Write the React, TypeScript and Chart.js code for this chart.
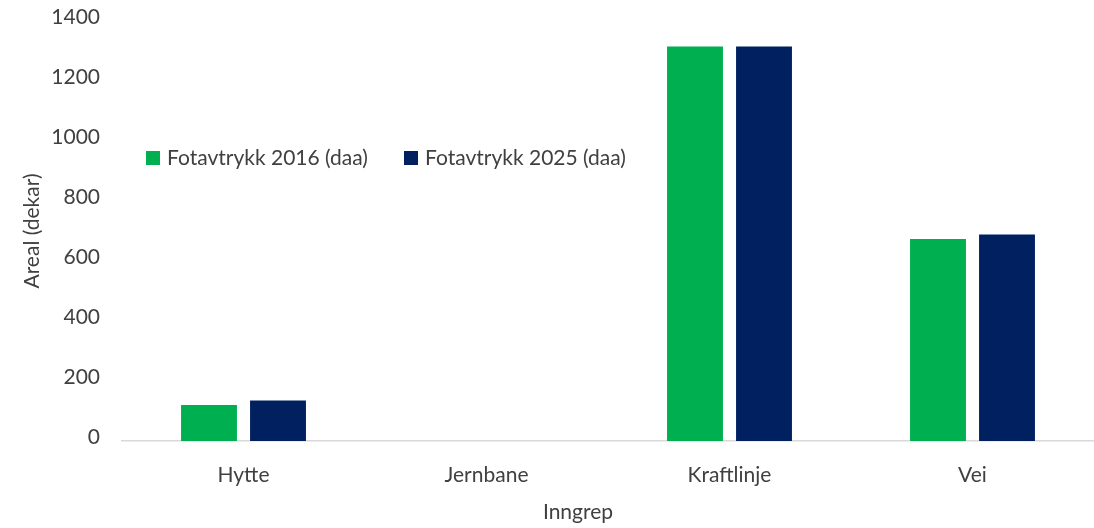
import React, { useEffect, useRef } from "react";
import { Chart, registerables } from "chart.js";

Chart.register(...registerables);

const categories = ["Hytte", "Jernbane", "Kraftlinje", "Vei"];
const series2016 = [120, 0, 1315, 673];
const series2025 = [135, 0, 1315, 688];
const seriesLabels = ["Fotavtrykk 2016 (daa)", "Fotavtrykk 2025 (daa)"];
const seriesColors = ["#00B050", "#002060"];
const yTitle = "Areal (dekar)";
const xTitle = "Inngrep";

const FONT = "Lato, 'Open Sans', sans-serif";
const TEXT = "#404040";

const overlayPlugin = {
  id: "overlay",
  afterDraw(chart: any) {
    const ctx = chart.ctx;
    const { left, top, bottom } = chart.chartArea;
    ctx.save();
    ctx.font = `21px ${FONT}`;
    ctx.fillStyle = TEXT;
    ctx.textBaseline = "middle";
    // legend
    const offsets = [24, 282];
    chart.data.datasets.forEach((ds: any, i: number) => {
      const x = left + offsets[i];
      const y = top + 137;
      ctx.fillStyle = ds.backgroundColor;
      ctx.fillRect(x, y - 7, 14, 14);
      ctx.fillStyle = TEXT;
      ctx.textAlign = "left";
      ctx.fillText(ds.label, x + 21, y);
    });
    // x title
    ctx.textAlign = "center";
    ctx.fillText(xTitle, 578, 512);
    // y title
    ctx.translate(32, (top + bottom) / 2);
    ctx.rotate(-Math.PI / 2);
    ctx.fillText(yTitle, 0, 0);
    ctx.restore();
  },
};

export default function App() {
  const ref = useRef<HTMLCanvasElement>(null);
  useEffect(() => {
    if (!ref.current) return;
    const chart = new Chart(ref.current, {
      type: "bar",
      data: {
        labels: categories,
        datasets: [
          { label: seriesLabels[0], data: series2016, backgroundColor: seriesColors[0] },
          { label: seriesLabels[1], data: series2025, backgroundColor: seriesColors[1] },
        ],
      },
      options: {
        animation: false,
        responsive: true,
        maintainAspectRatio: false,
        layout: { padding: { top: 21, left: 0, right: 0, bottom: 0 } },
        datasets: { bar: { categoryPercentage: 0.568, barPercentage: 0.81 } },
        plugins: { legend: { display: false }, tooltip: { enabled: false } },
        scales: {
          x: {
            grid: { display: false, drawTicks: false },
            border: { display: true, color: "#D9D9D9", width: 1.5 },
            ticks: { color: TEXT, font: { family: FONT, size: 21 }, padding: 22 },
            afterFit(scale: any) {
              scale.height = 87;
              scale.paddingLeft = 0;
              scale.paddingRight = 0;
            },
          },
          y: {
            min: 0,
            max: 1400,
            grid: { display: false, drawTicks: false },
            border: { display: false },
            ticks: {
              stepSize: 200,
              color: TEXT,
              font: { family: FONT, size: 21 },
              padding: 22,
              labelOffset: -4,
              callback: (v: any) => String(v),
            },
            afterFit(scale: any) {
              scale.width = 122;
              scale.paddingTop = 0;
              scale.paddingBottom = 0;
            },
          },
        },
      },
      plugins: [overlayPlugin],
    });
    return () => chart.destroy();
  }, []);
  return (
    <div style={{ position: "absolute", left: 0, top: 0, width: 1094, height: 528 }}>
      <canvas ref={ref} />
    </div>
  );
}
